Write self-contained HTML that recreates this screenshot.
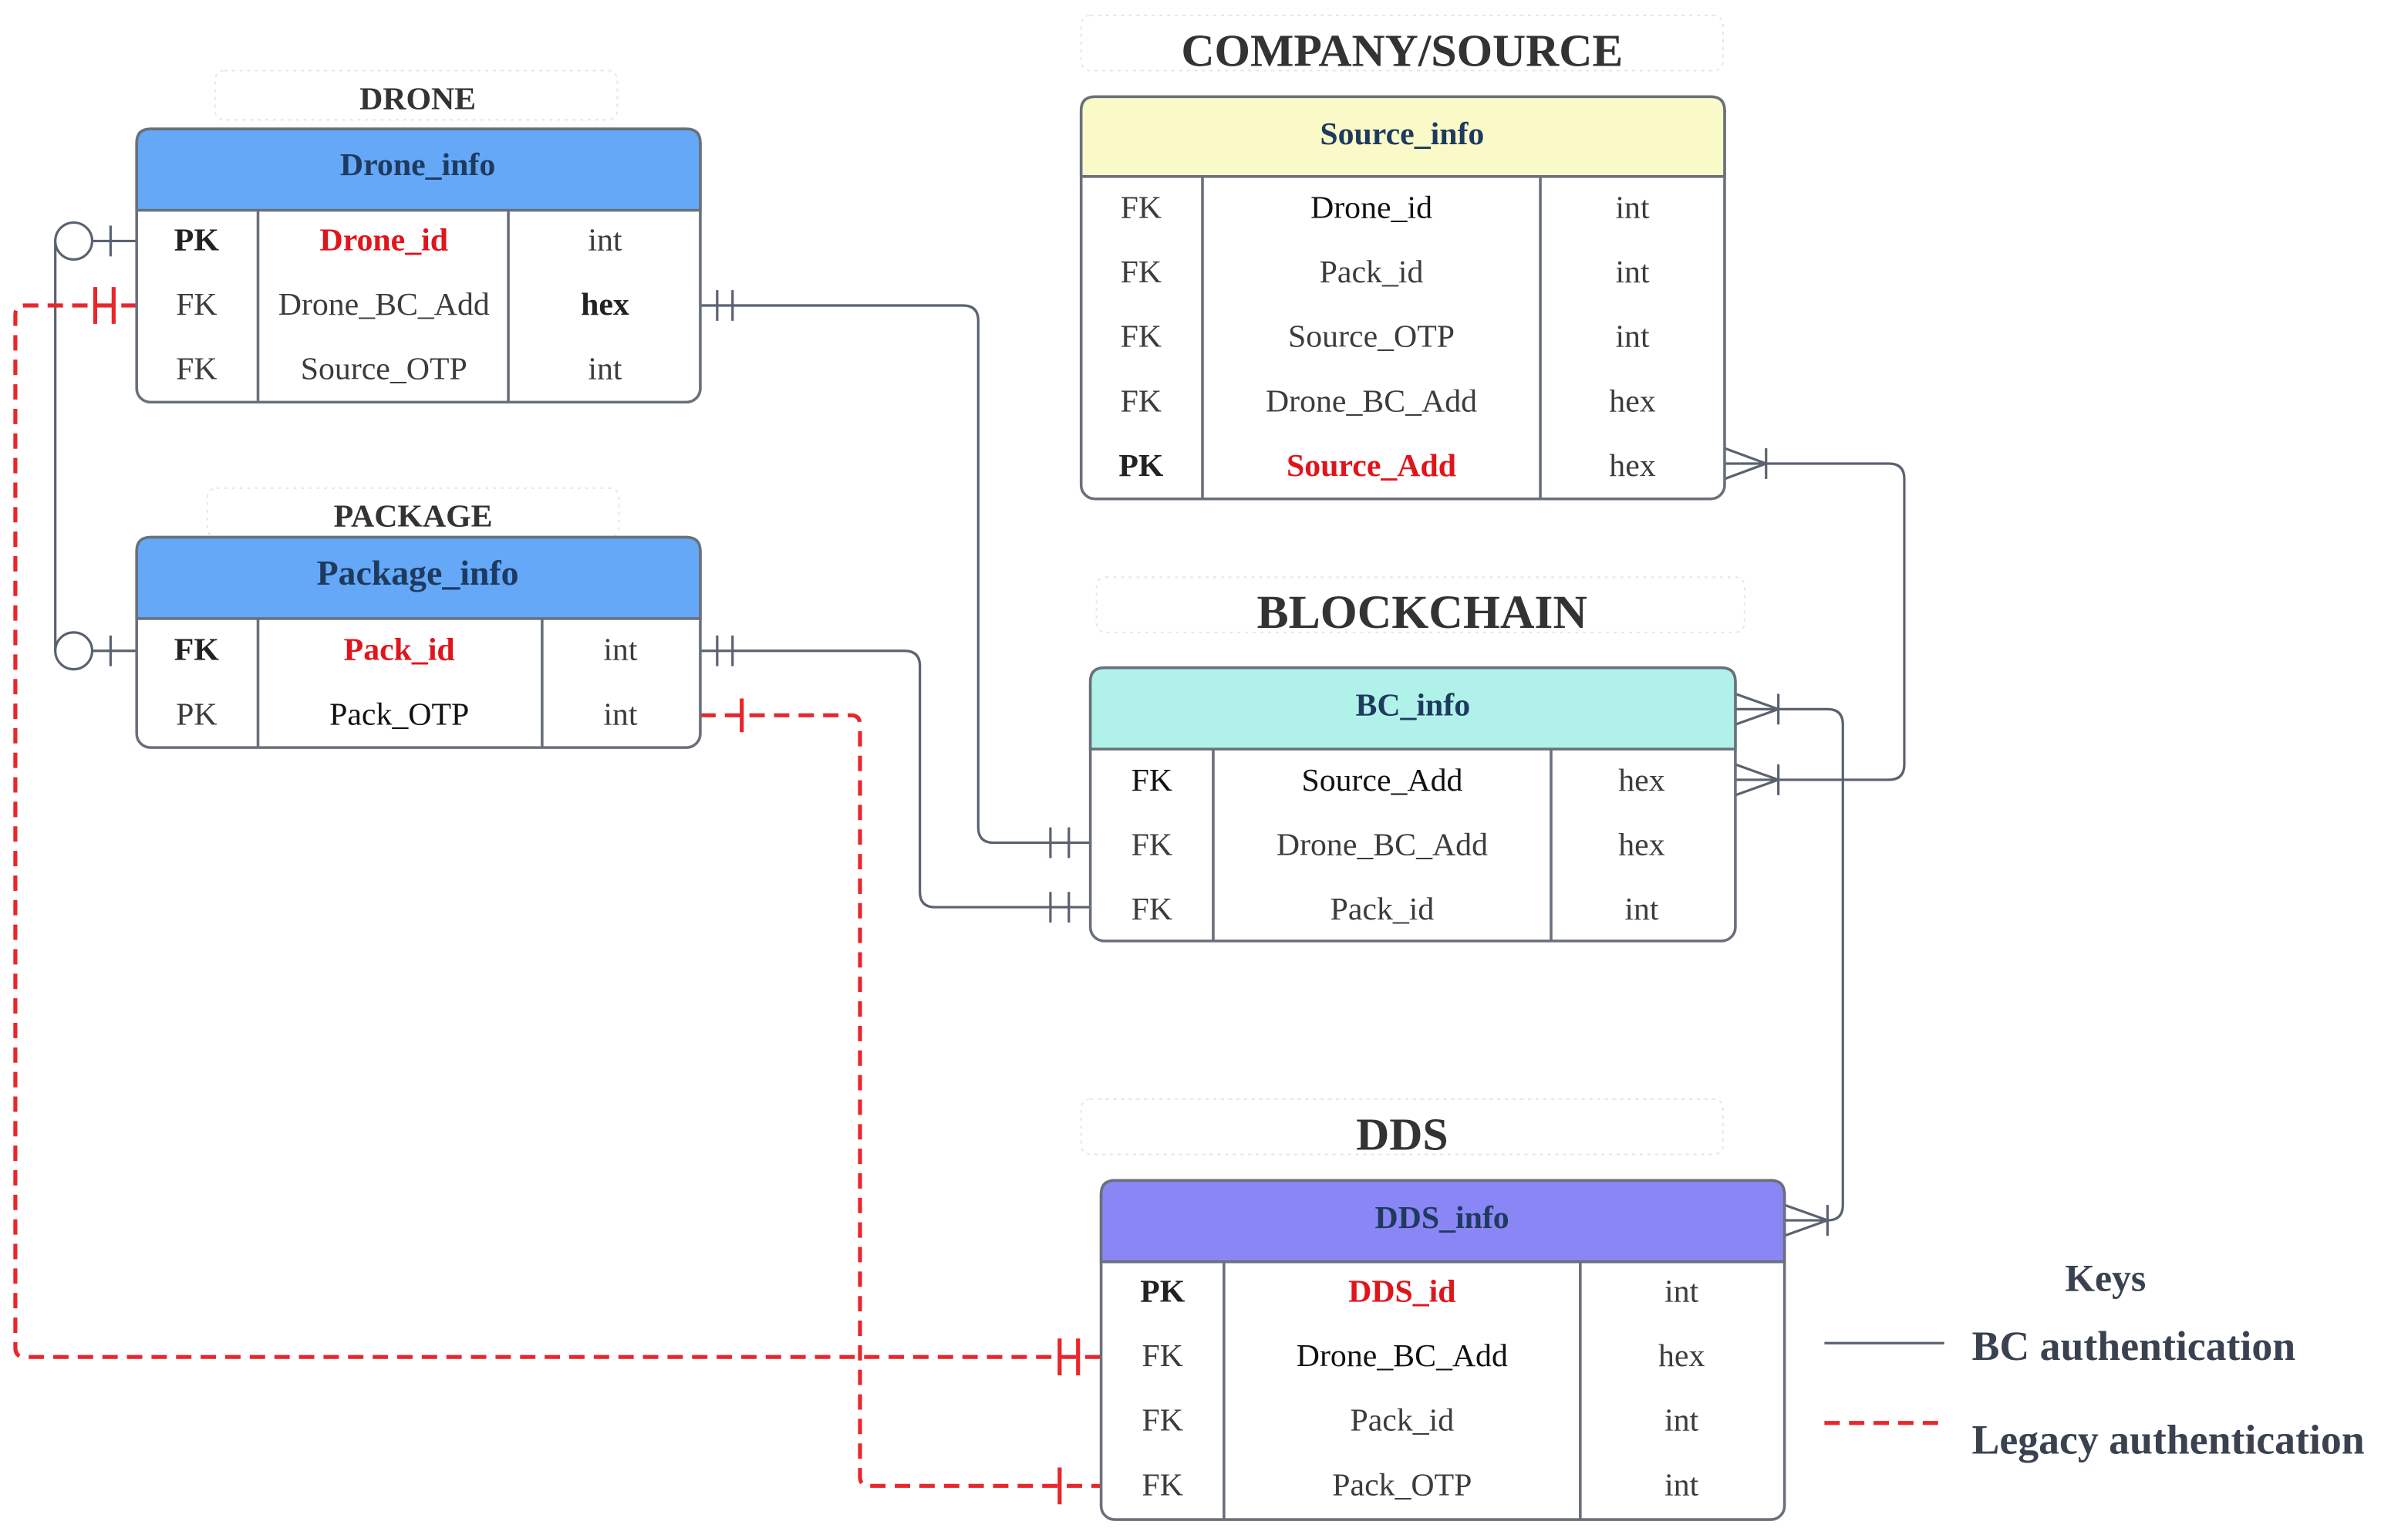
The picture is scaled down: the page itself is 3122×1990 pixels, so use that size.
<!DOCTYPE html>
<html><head><meta charset="utf-8"><style>html,body{margin:0;padding:0;background:#fff}svg{display:block}</style></head>
<body>
<svg width="3122" height="1990" viewBox="0 0 1568 1000" preserveAspectRatio="none" xmlns="http://www.w3.org/2000/svg" font-family="'Liberation Serif',serif">
<rect width="1568" height="1000" fill="#fff"/>
<g fill="none" stroke="#e6e6e6" stroke-width="1" stroke-dasharray="2 3">
<rect x="140" y="46" width="262" height="32" rx="6"/>
<rect x="135" y="318" width="268" height="32" rx="6"/>
<rect x="704" y="10" width="418" height="36" rx="6"/>
<rect x="714" y="376" width="422" height="36" rx="6"/>
<rect x="704" y="716" width="418" height="36" rx="6"/>
</g>
<g font-weight="bold" fill="#333" text-anchor="middle">
<text x="272" y="71" font-size="21">DRONE</text>
<text x="269" y="343" font-size="21">PACKAGE</text>
<text x="913" y="43" font-size="30">COMPANY/SOURCE</text>
<text x="926" y="409" font-size="31">BLOCKCHAIN</text>
<text x="913" y="749" font-size="30">DDS</text>
</g>

<g fill="none" stroke="#5a6270" stroke-width="1.6">
<path d="M36 157 V424"/>
<path d="M60 157 H89 M72 147 V167"/>
<path d="M60 424 H89 M72 414 V434"/>
<path d="M456 199 H627 Q637 199 637 209 V539 Q637 549 647 549 H710 M467 189 V209 M477 189 V209 M684 539 V559 M696 539 V559"/>
<path d="M456 424 H589 Q599 424 599 434 V581 Q599 591 609 591 H710 M467 414 V434 M477 414 V434 M684 581 V601 M696 581 V601"/>
<path d="M1123 302 H1230 Q1240 302 1240 312 V498 Q1240 508 1230 508 H1130 M1123 292 L1150 302 L1123 312 M1150 292 V312 M1130 498 L1158 508 L1130 518 M1158 498 V518"/>
<path d="M1130 462 H1190 Q1200 462 1200 472 V785 Q1200 795 1190 795 H1162 M1130 452 L1158 462 L1130 472 M1158 452 V472 M1162 785 L1190 795 L1162 805 M1190 785 V805"/>
<path d="M1188 875 H1266"/>
</g>
<circle cx="48" cy="157" r="12" fill="#fff" stroke="#5a6270" stroke-width="1.6"/>
<circle cx="48" cy="424" r="12" fill="#fff" stroke="#5a6270" stroke-width="1.6"/>

<g fill="none" stroke="#e8262b" stroke-width="2.6">
<path d="M89 199 H16 Q10 199 10 205 V878 Q10 884 16 884 H717" stroke-dasharray="10 6"/>
<path d="M456 466 H554 Q560 466 560 472 V962 Q560 968 566 968 H717" stroke-dasharray="10 6"/>
<path d="M1188 927 H1268" stroke-dasharray="10 6"/>
<path d="M62 187 V211 M74 187 V211 M690 872 V896 M702 872 V896 M483 455 V477 M690 956 V980"/>
</g>

<g stroke="#6a707a" stroke-width="1.8">
<rect x="89" y="84" width="367" height="178" rx="9" fill="#fff"/>
<path d="M89 137 V93 Q89 84 98 84 H447 Q456 84 456 93 V137 Z" fill="#64a8f7"/>
<path d="M168 137 V262 M331 137 V262" fill="none"/>
<rect x="89" y="350" width="367" height="137" rx="9" fill="#fff"/>
<path d="M89 403 V359 Q89 350 98 350 H447 Q456 350 456 359 V403 Z" fill="#64a8f7"/>
<path d="M168 403 V487 M353 403 V487" fill="none"/>
<rect x="704" y="63" width="419" height="262" rx="9" fill="#fff"/>
<path d="M704 115 V72 Q704 63 713 63 H1114 Q1123 63 1123 72 V115 Z" fill="#fafac8"/>
<path d="M783 115 V325 M1003 115 V325" fill="none"/>
<rect x="710" y="435" width="420" height="178" rx="9" fill="#fff"/>
<path d="M710 488 V444 Q710 435 719 435 H1121 Q1130 435 1130 444 V488 Z" fill="#b0f2ea"/>
<path d="M790 488 V613 M1010 488 V613" fill="none"/>
<rect x="717" y="769" width="445" height="221" rx="9" fill="#fff"/>
<path d="M717 822 V778 Q717 769 726 769 H1153 Q1162 769 1162 778 V822 Z" fill="#8a86f5"/>
<path d="M797 822 V990 M1029 822 V990" fill="none"/>
</g>

<g font-size="21" fill="#1f3a5f" font-weight="bold" text-anchor="middle">
<text x="272" y="114">Drone_info</text>
<text x="272" y="381" font-size="23">Package_info</text>
<text x="913" y="94">Source_info</text>
<text x="920" y="466">BC_info</text>
<text x="939" y="800">DDS_info</text>
</g>

<g font-size="21" fill="#3c3c3c" text-anchor="middle">
<text x="128" y="163" font-weight="bold" fill="#222">PK</text>
<text x="250" y="163" font-weight="bold" fill="#e0151c">Drone_id</text>
<text x="394" y="163">int</text>
<text x="128" y="205">FK</text><text x="250" y="205">Drone_BC_Add</text><text x="394" y="205" font-weight="bold" fill="#222">hex</text>
<text x="128" y="247">FK</text><text x="250" y="247">Source_OTP</text><text x="394" y="247">int</text>
<text x="128" y="430" font-weight="bold" fill="#222">FK</text>
<text x="260" y="430" font-weight="bold" fill="#e0151c">Pack_id</text>
<text x="404" y="430">int</text>
<text x="128" y="472">PK</text><text x="260" y="472" fill="#111">Pack_OTP</text><text x="404" y="472">int</text>
<text x="743" y="142">FK</text><text x="893" y="142" fill="#111">Drone_id</text><text x="1063" y="142">int</text>
<text x="743" y="184">FK</text><text x="893" y="184">Pack_id</text><text x="1063" y="184">int</text>
<text x="743" y="226">FK</text><text x="893" y="226">Source_OTP</text><text x="1063" y="226">int</text>
<text x="743" y="268">FK</text><text x="893" y="268">Drone_BC_Add</text><text x="1063" y="268">hex</text>
<text x="743" y="310" font-weight="bold" fill="#222">PK</text><text x="893" y="310" font-weight="bold" fill="#e0151c">Source_Add</text><text x="1063" y="310">hex</text>
<text x="750" y="515" fill="#111">FK</text><text x="900" y="515" fill="#111">Source_Add</text><text x="1069" y="515">hex</text>
<text x="750" y="557">FK</text><text x="900" y="557">Drone_BC_Add</text><text x="1069" y="557">hex</text>
<text x="750" y="599">FK</text><text x="900" y="599">Pack_id</text><text x="1069" y="599">int</text>
<text x="757" y="848" font-weight="bold" fill="#222">PK</text><text x="913" y="848" font-weight="bold" fill="#e0151c">DDS_id</text><text x="1095" y="848">int</text>
<text x="757" y="890">FK</text><text x="913" y="890" fill="#111">Drone_BC_Add</text><text x="1095" y="890">hex</text>
<text x="757" y="932">FK</text><text x="913" y="932">Pack_id</text><text x="1095" y="932">int</text>
<text x="757" y="974">FK</text><text x="913" y="974">Pack_OTP</text><text x="1095" y="974">int</text>
</g>

<g font-weight="bold" fill="#3a4250" font-size="27">
<text x="1371" y="841" text-anchor="middle" font-size="25">Keys</text>
<text x="1284" y="886">BC authentication</text>
<text x="1284" y="947">Legacy authentication</text>
</g>
</svg>
</body></html>
